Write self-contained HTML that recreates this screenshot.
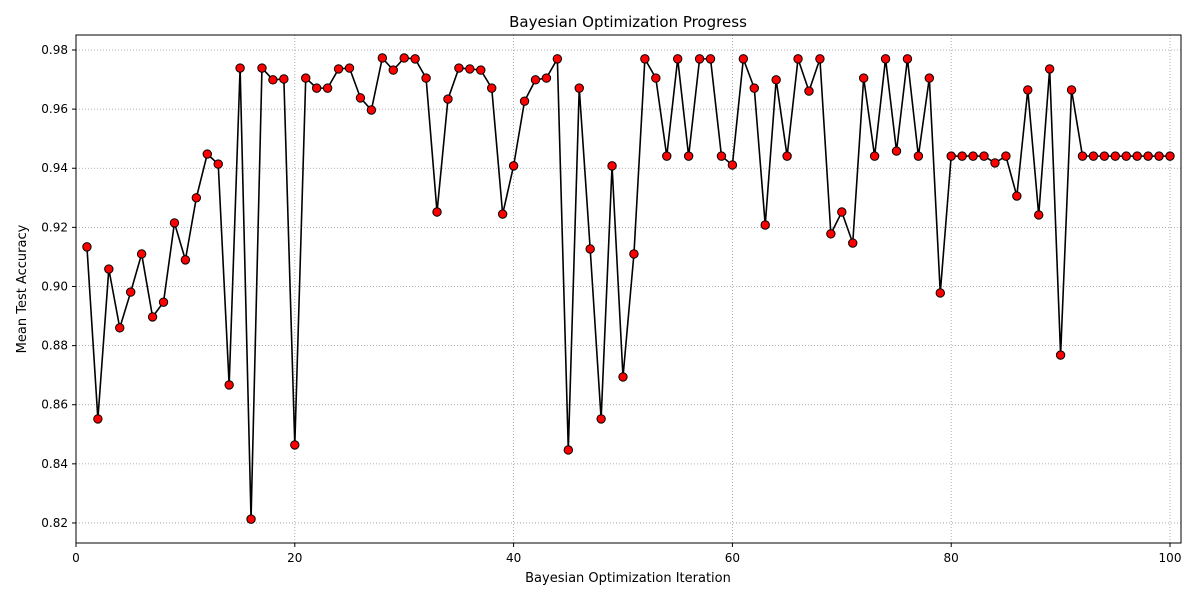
<!DOCTYPE html>
<html><head><meta charset="utf-8"><style>
body{margin:0;background:#fff;font-family:"Liberation Sans","DejaVu Sans",sans-serif;}
svg text{font-family:"DejaVu Sans","Liberation Sans",sans-serif;}
</style></head><body>
<svg id="chart" width="1200" height="600" xmlns="http://www.w3.org/2000/svg">
<rect width="1200" height="600" fill="#fff"/>
<g id="grid"></g>
<g id="series"></g>
<rect x="76" y="35" width="1105" height="508" fill="none" stroke="#000" stroke-width="1"/>
<g id="axes"></g>
<text x="628" y="27" text-anchor="middle" font-size="15">Bayesian Optimization Progress</text>
<text x="628" y="582" text-anchor="middle" font-size="13">Bayesian Optimization Iteration</text>
<text x="26" y="289" text-anchor="middle" font-size="13" transform="rotate(-90 26 289)">Mean Test Accuracy</text>
</svg>
<script>
const iterations = Array.from({length:100},(_,i)=>i+1);
const accuracy = [0.9134,0.8552,0.9059,0.886,0.8981,0.911,0.8897,0.8947,0.9215,0.909,
0.930,0.9448,0.9414,0.8667,0.9739,0.8213,0.9739,0.9699,0.9702,0.8464,
0.9705,0.9671,0.9671,0.9736,0.9739,0.9638,0.9597,0.9773,0.9732,0.9773,
0.977,0.9705,0.9252,0.9634,0.9739,0.9736,0.9732,0.9671,0.9245,0.9408,
0.9627,0.9699,0.9705,0.977,0.8447,0.9671,0.9127,0.8552,0.9408,0.8694,
0.911,0.977,0.9705,0.9441,0.977,0.9441,0.977,0.977,0.9441,0.9411,
0.977,0.9671,0.9208,0.9699,0.9441,0.977,0.9661,0.977,0.9178,0.9252,
0.9147,0.9705,0.9441,0.977,0.9458,0.977,0.9441,0.9705,0.8978,0.9441,
0.9441,0.9441,0.9441,0.9418,0.9441,0.9306,0.9665,0.9242,0.9736,0.8768,
0.9665,0.9441,0.9441,0.9441,0.9441,0.9441,0.9441,0.9441,0.9441,0.9441];
const xTicks = [0,20,40,60,80,100];
const yTicks = [0.82,0.84,0.86,0.88,0.90,0.92,0.94,0.96,0.98];
const NS="http://www.w3.org/2000/svg";
const xs = v => 76 + v*10.94;
const ys = v => 50 + (0.98 - v)*2956;
function mk(tag, attrs, parent){const e=document.createElementNS(NS,tag);for(const k in attrs)e.setAttribute(k,attrs[k]);parent.appendChild(e);return e;}
const grid=document.getElementById('grid'), axes=document.getElementById('axes'), ser=document.getElementById('series');
xTicks.forEach(t=>{
  const gl=mk('line',{x1:xs(t),x2:xs(t),y1:35,y2:543,stroke:'#999','stroke-width':0.8,'stroke-dasharray':'1,2'},grid);
  
  
  const tk=mk('line',{x1:xs(t),x2:xs(t),y1:543,y2:547,stroke:'#000'},axes);
  
  
  const tx=mk('text',{x:xs(t),y:562,'text-anchor':'middle','font-size':12},axes);
  tx.textContent=t;
  
  
});
yTicks.forEach(t=>{
  const gl=mk('line',{x1:76,x2:1181,y1:ys(t),y2:ys(t),stroke:'#999','stroke-width':0.8,'stroke-dasharray':'1,2'},grid);
  
  
  const tk=mk('line',{x1:72,x2:76,y1:ys(t),y2:ys(t),stroke:'#000'},axes);
  
  
  const tx=mk('text',{x:68,y:ys(t)+4,'text-anchor':'end','font-size':12},axes);
  tx.textContent=t.toFixed(2);
  
  
});
const pts=iterations.map((it,i)=>xs(it)+','+ys(accuracy[i])).join(' ');
const line=mk('polyline',{points:pts,fill:'none',stroke:'#000','stroke-width':1.6},ser);


iterations.forEach((it,i)=>{
  const c=mk('circle',{cx:xs(it),cy:ys(accuracy[i]),r:4.2,fill:'#f00',stroke:'#000','stroke-width':1},ser);
  
  
});
</script>
</body></html>
